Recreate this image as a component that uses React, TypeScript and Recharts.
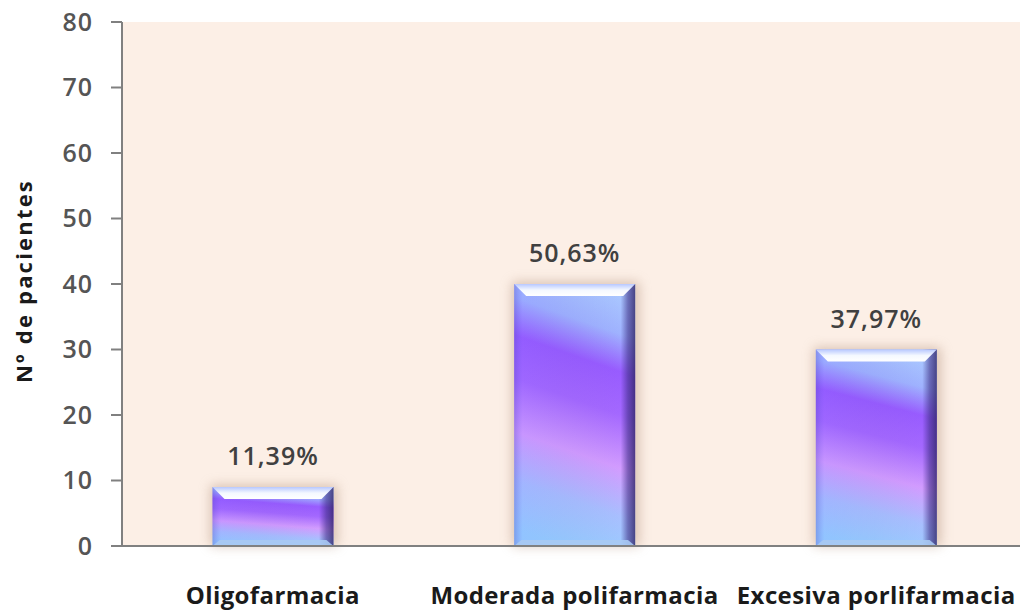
import { BarChart, Bar, XAxis, YAxis, CartesianGrid, LabelList, Label } from "recharts";

const categories = ["Oligofarmacia", "Moderada polifarmacia", "Excesiva porlifarmacia"];
const patients = [9, 40, 30];
const percentLabels = ["11,39%", "50,63%", "37,97%"];
const yTicks = [0, 10, 20, 30, 40, 50, 60, 70, 80];

const data = categories.map((name, i) => ({
  name,
  value: patients[i],
  pct: percentLabels[i],
}));

const FONT = "'Open Sans', Lato, sans-serif";

function GlassBar(props: any) {
  const { x, y, width, height } = props;
  if (!height || height <= 0) return null;
  const bevel = 12;
  return (
    <g>
      <rect
        x={x - 2}
        y={y - 2}
        width={width + 6}
        height={height + 2}
        fill="#b99a86"
        opacity={0.55}
        filter="url(#barGlow)"
      />
      <rect x={x} y={y} width={width} height={height} fill="url(#barBody)" />
      <rect x={x} y={y} width={width} height={height} fill="url(#barSides)" />
      <polygon
        points={`${x},${y} ${x + width},${y} ${x + width - bevel},${y + bevel} ${x + bevel},${y + bevel}`}
        fill="url(#barTop)"
      />
      <polygon
        points={`${x + bevel * 0.6},${y + height - 6} ${x + width - bevel * 0.6},${y + height - 6} ${x + width},${y + height} ${x},${y + height}`}
        fill="#a9c9f2"
        opacity={0.9}
      />
    </g>
  );
}

export default function App() {
  return (
    <div style={{ position: "absolute", left: 0, top: 0, background: "#ffffff" }}>
      <BarChart
        width={1027}
        height={612}
        data={data}
        margin={{ top: 22, right: 0, bottom: 0, left: 0 }}
        barCategoryGap="30%"
      >
        <defs>
          <linearGradient id="barBody" x1="0.58" y1="0" x2="0.42" y2="1">
            <stop offset="0" stopColor="#a9c6ff" />
            <stop offset="0.14" stopColor="#9fb2ff" />
            <stop offset="0.28" stopColor="#985cff" />
            <stop offset="0.44" stopColor="#a468ff" />
            <stop offset="0.64" stopColor="#d29cff" />
            <stop offset="0.82" stopColor="#a8bfff" />
            <stop offset="1" stopColor="#96cfff" />
          </linearGradient>
          <linearGradient id="barSides" x1="0" y1="0" x2="1" y2="0">
            <stop offset="0" stopColor="#4b44c8" stopOpacity={0.35} />
            <stop offset="0.07" stopColor="#6a5cff" stopOpacity={0.1} />
            <stop offset="0.88" stopColor="#3a2a80" stopOpacity={0} />
            <stop offset="0.94" stopColor="#3a2a80" stopOpacity={0.55} />
            <stop offset="1" stopColor="#2e2466" stopOpacity={0.8} />
          </linearGradient>
          <linearGradient id="barTop" x1="0" y1="0" x2="0" y2="1">
            <stop offset="0" stopColor="#b8c8ff" />
            <stop offset="0.5" stopColor="#f4f8ff" />
            <stop offset="1" stopColor="#ffffff" />
          </linearGradient>
          <filter id="barGlow" x="-30%" y="-30%" width="160%" height="160%">
            <feGaussianBlur stdDeviation="6" />
          </filter>
        </defs>
        <CartesianGrid horizontal={false} vertical={false} fill="#fcefe6" />
        <XAxis
          dataKey="name"
          height={66}
          axisLine={{ stroke: "#808080", strokeWidth: 2 }}
          tickLine={false}
          tickSize={0}
          tickMargin={41}
          interval={0}
          tick={{ fill: "#1a1a1a", fontSize: 24, fontWeight: 700, letterSpacing: 0.4, fontFamily: FONT }}
        />
        <YAxis
          domain={[0, 80]}
          ticks={yTicks}
          width={122}
          axisLine={{ stroke: "#808080", strokeWidth: 2 }}
          tickLine={{ stroke: "#808080", strokeWidth: 2 }}
          tickSize={11}
          tickMargin={18}
          tick={{ fill: "#555555", fontSize: 25, fontWeight: 600, letterSpacing: 1, fontFamily: FONT }}
        >
          <Label
            content={(p: any) => {
              const vb = p.viewBox;
              const cx = vb.x + 23;
              const cy = vb.y + vb.height / 2 - 3;
              return (
                <text
                  x={cx}
                  y={cy}
                  transform={`rotate(-90, ${cx}, ${cy})`}
                  textAnchor="middle"
                  dominantBaseline="central"
                  fill="#1a1a1a"
                  fontSize={22}
                  fontWeight={700}
                  letterSpacing={2.2}
                  fontFamily={FONT}
                >
                  Nº de pacientes
                </text>
              );
            }}
          />
        </YAxis>
        <Bar dataKey="value" shape={<GlassBar />} isAnimationActive={false}>
          <LabelList
            dataKey="pct"
            position="top"
            offset={22}
            fill="#404040"
            fontSize={25}
            fontWeight={600}
            letterSpacing={1}
            fontFamily={FONT}
          />
        </Bar>
      </BarChart>
    </div>
  );
}
